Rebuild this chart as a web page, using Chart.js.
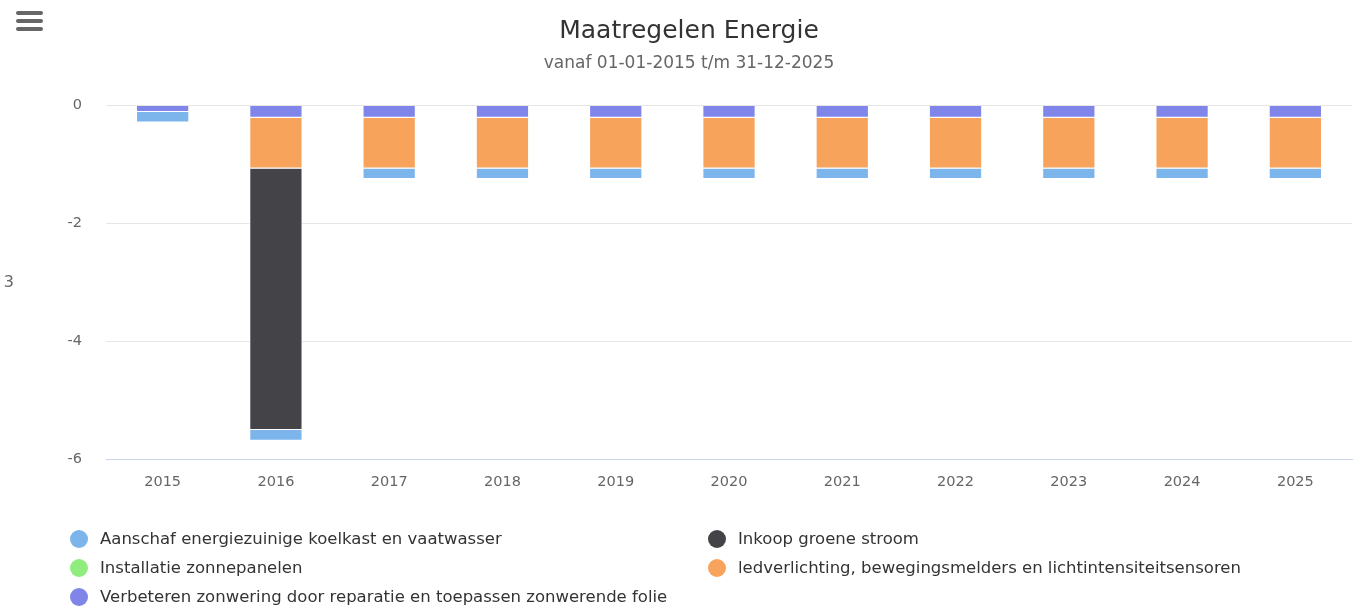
<!DOCTYPE html>
<html>
<head>
<meta charset="utf-8">
<script src="https://cdn.jsdelivr.net/npm/chart.js@4"></script>
<style>
    body { margin: 0; background: #fff; font-family: "DejaVu Sans", sans-serif; }
    #wrap { position: relative; width: 1354px; height: 606px; overflow: hidden; }
    #menu { position: absolute; left: 16px; top: 11px; width: 27px; }
    #menu span { display: block; height: 4px; margin-bottom: 4px; border-radius: 2px; background: #666; }
    #legend {
        position: absolute; left: 70px; top: 524px;
        display: grid; grid-template-columns: 638px auto;
        row-gap: 0; font-size: 16.5px; color: #333;
    }
    .item { display: flex; align-items: center; height: 29px; white-space: nowrap; }
    .dot { width: 18px; height: 18px; border-radius: 50%; margin-right: 12px; }
</style>
</head>
<body>
<div id="wrap">
    <canvas id="chart" width="1354" height="606"></canvas>
    <div id="menu"><span></span><span></span><span></span></div>
    <div id="legend"></div>
</div>
<script>
const years = ["2015", "2016", "2017", "2018", "2019", "2020", "2021", "2022", "2023", "2024", "2025"];

// series in legend order
const aanschaf     = [-0.18, -0.18, -0.18, -0.18, -0.18, -0.18, -0.18, -0.18, -0.18, -0.18, -0.18];
const inkoop       = [0, -4.44, 0, 0, 0, 0, 0, 0, 0, 0, 0];
const zonnepanelen = [0, 0, 0, 0, 0, 0, 0, 0, 0, 0, 0];
const ledverl      = [0, -0.86, -0.86, -0.86, -0.86, -0.86, -0.86, -0.86, -0.86, -0.86, -0.86];
const zonwering    = [-0.11, -0.21, -0.21, -0.21, -0.21, -0.21, -0.21, -0.21, -0.21, -0.21, -0.21];

const yTicks = [0, -2, -4, -6];

const series = [
    { label: "Aanschaf energiezuinige koelkast en vaatwasser", data: aanschaf, color: "#7cb5ec" },
    { label: "Inkoop groene stroom", data: inkoop, color: "#434348" },
    { label: "Installatie zonnepanelen", data: zonnepanelen, color: "#90ed7d" },
    { label: "ledverlichting, bewegingsmelders en lichtintensiteitsensoren", data: ledverl, color: "#f7a35c" },
    { label: "Verbeteren zonwering door reparatie en toepassen zonwerende folie", data: zonwering, color: "#8085e9" }
];

// last series sits nearest to zero, like the original
const datasets = series.slice().reverse().map(s => ({
    label: s.label,
    data: s.data,
    backgroundColor: s.color,
    borderColor: "#ffffff",
    borderWidth: 1,
    categoryPercentage: 1,
    barPercentage: 0.47
}));

// html legend, two columns
const legendDiv = document.getElementById("legend");
series.forEach(s => {
    const item = document.createElement("div");
    item.className = "item";
    item.innerHTML = `<span class="dot" style="background:${s.color}"></span>${s.label}`;
    legendDiv.appendChild(item);
});

const sideLabel = {
    id: "sideLabel",
    afterDraw(c) {
        const ctx = c.ctx;
        ctx.save();
        ctx.fillStyle = "#666";
        ctx.font = "16px 'DejaVu Sans'";
        ctx.textAlign = "right";
        ctx.textBaseline = "middle";
        ctx.fillText("3", 14, 283);
        ctx.restore();
    }
};

const chart = new Chart(document.getElementById("chart"), {
    type: "bar",
    data: { labels: years, datasets: datasets },
    plugins: [sideLabel],
    options: {
        responsive: false,
        animation: false,
        // left padding shifts the title centre; y axis width compensates
        layout: { padding: { left: 26, right: 2, top: 0, bottom: 107 } },
        plugins: {
            legend: { display: false },
            tooltip: { enabled: false },
            title: {
                display: true,
                text: "Maatregelen Energie",
                color: "#333",
                font: { family: "DejaVu Sans", size: 25, weight: "normal" },
                padding: { top: 16, bottom: 0 }
            },
            subtitle: {
                display: true,
                text: "vanaf 01-01-2015 t/m 31-12-2025",
                color: "#666",
                font: { family: "DejaVu Sans", size: 17 },
                padding: { top: 7, bottom: 32 }
            }
        },
        scales: {
            x: {
                stacked: true,
                grid: { display: false, drawTicks: false },
                border: { display: true, color: "#ccd6eb" },
                ticks: { color: "#666", font: { family: "DejaVu Sans", size: 14.5 }, padding: 15 },
                afterFit(scale) { scale.height = 40; }
            },
            y: {
                stacked: true,
                min: -6,
                max: 0,
                afterBuildTicks(scale) { scale.ticks = yTicks.map(v => ({ value: v })); },
                grid: {
                    drawTicks: false,
                    color: ctx => ctx.tick && ctx.tick.value === -6 ? "#ccd6eb" : "#e6e6e6"
                },
                border: { display: false },
                ticks: { color: "#666", font: { family: "DejaVu Sans", size: 14.5 }, padding: 24 },
                afterFit(scale) { scale.width = 80; }
            }
        }
    }
});
</script>
</body>
</html>
